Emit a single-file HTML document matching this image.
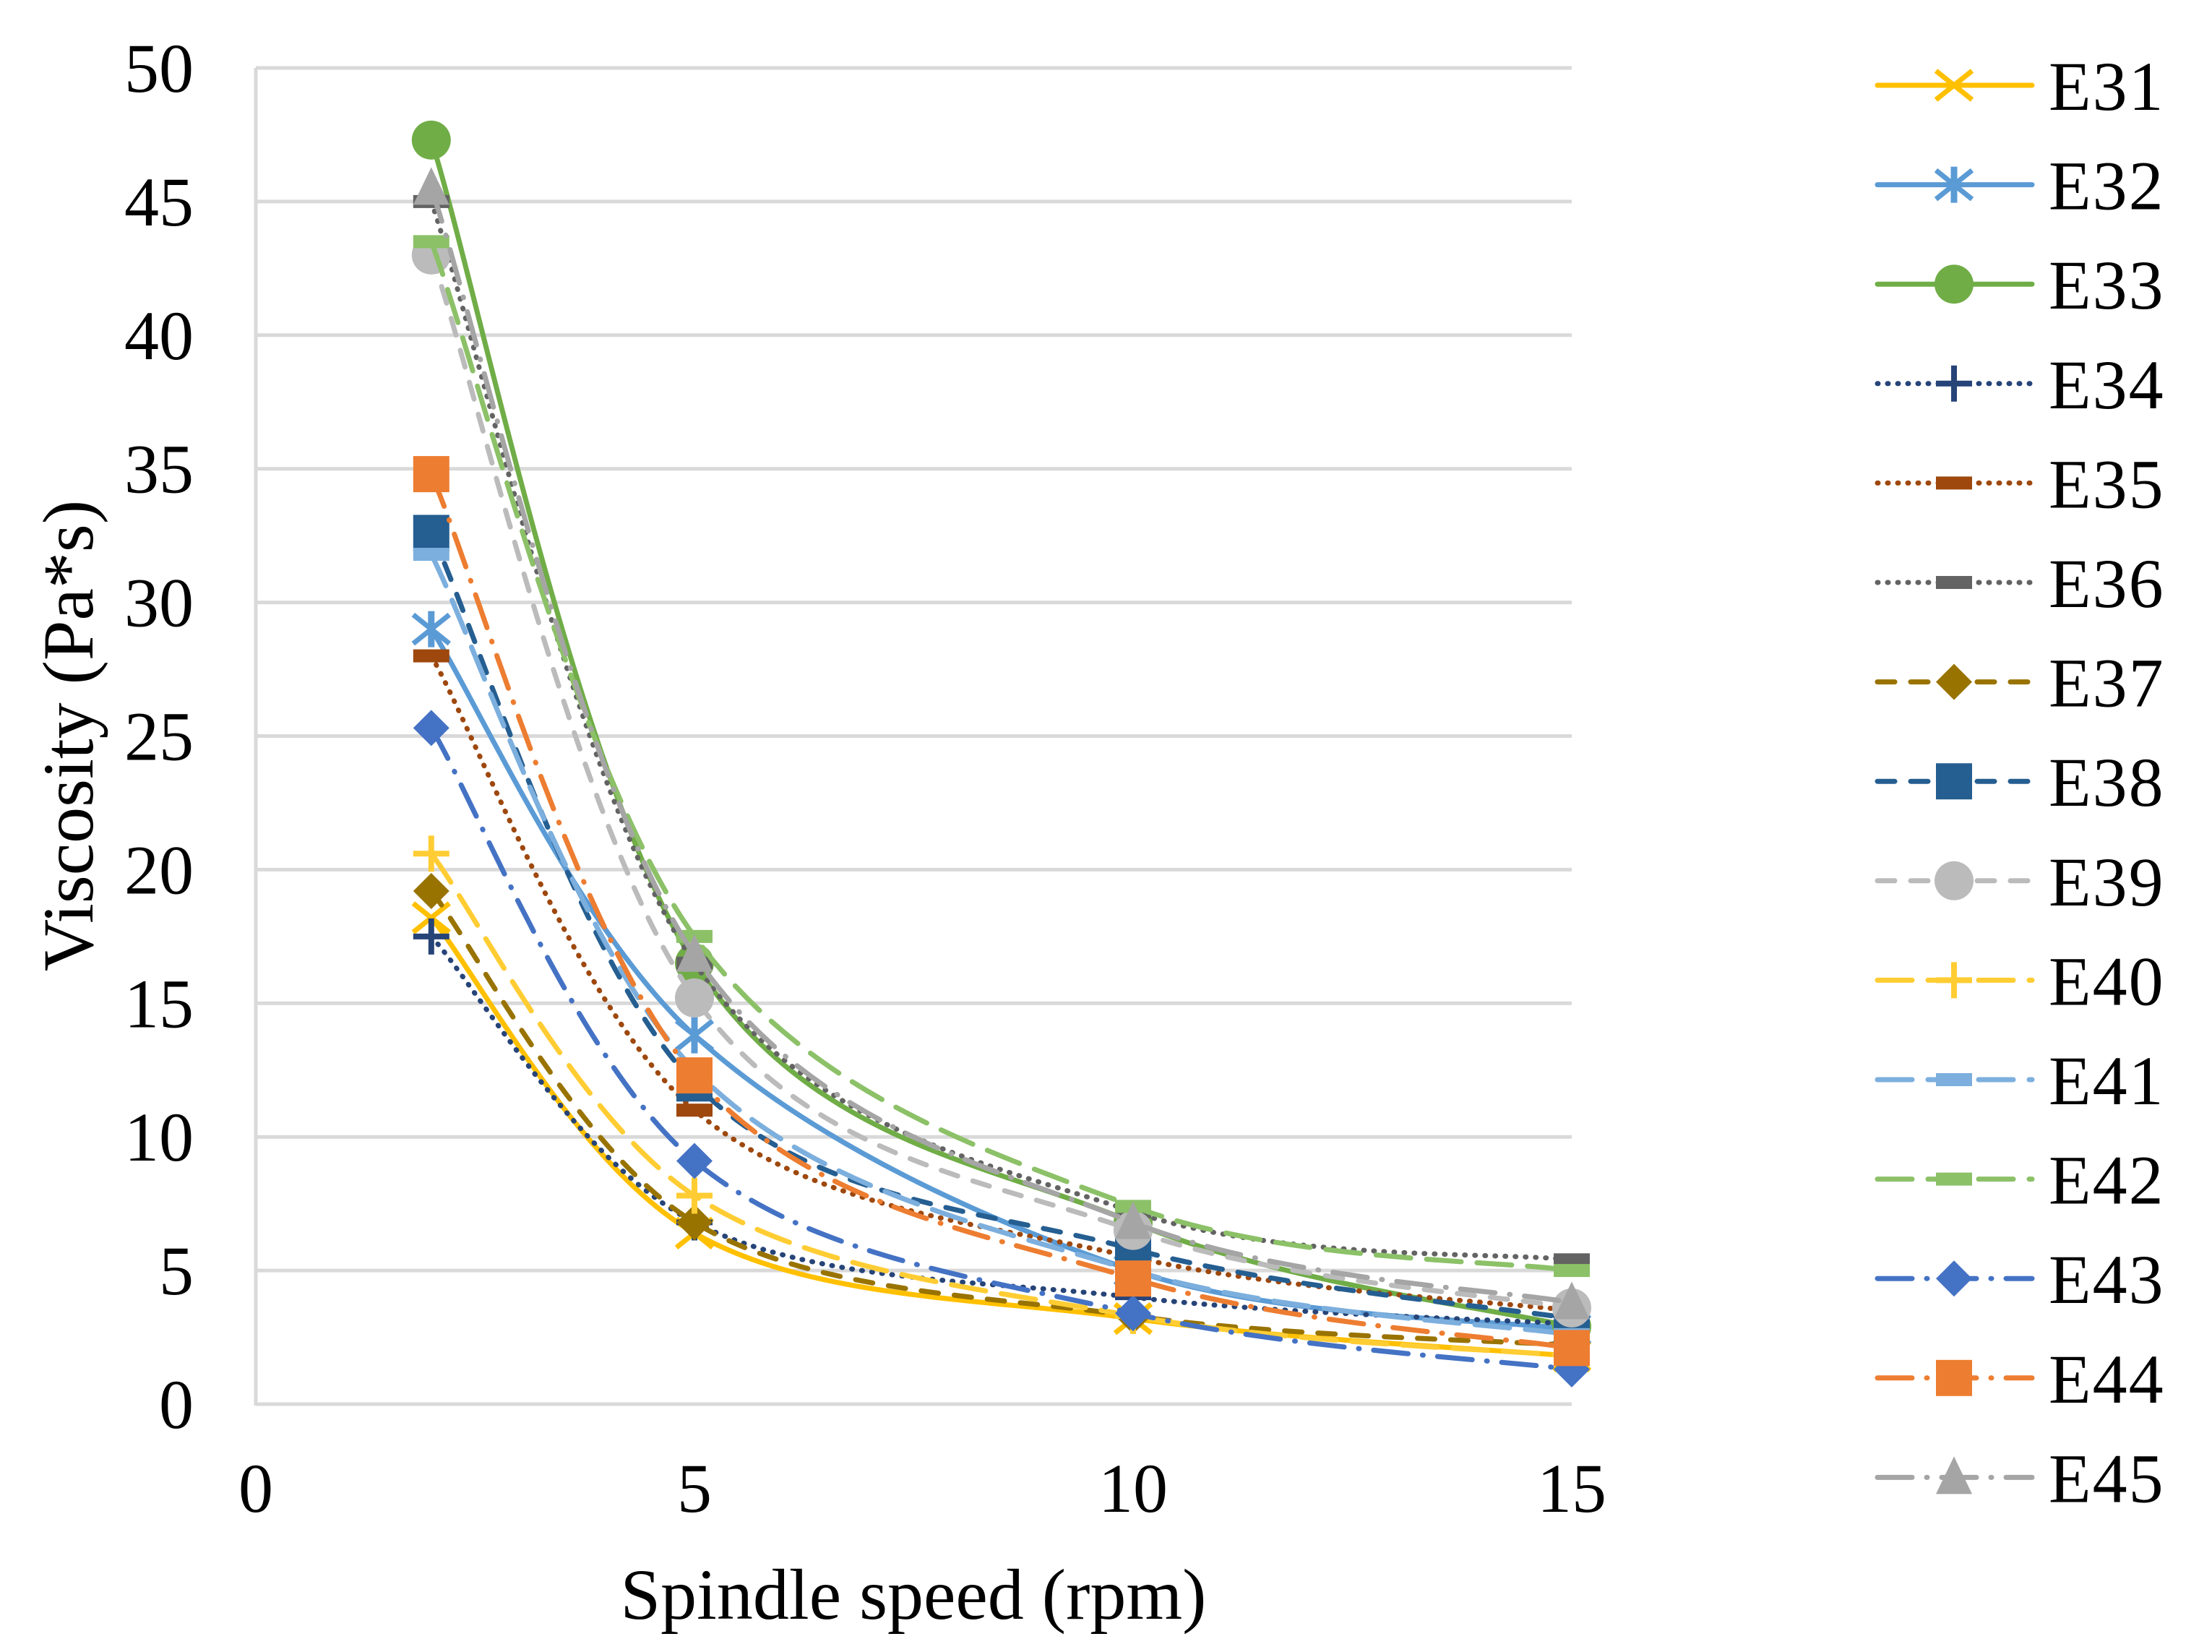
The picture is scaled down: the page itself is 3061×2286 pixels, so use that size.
<!DOCTYPE html>
<html><head><meta charset="utf-8">
<style>
html,body{margin:0;padding:0;background:#fff;}
svg{display:block;}
text{font-family:"Liberation Serif",serif;fill:#000;}
</style></head>
<body>
<svg id="chart" width="3061" height="2286" viewBox="0 0 3061 2286" xmlns="http://www.w3.org/2000/svg">
<g id="grid"></g>
<g id="axes"></g>
<g id="series"></g>
<g id="legend"></g>
<text x="1264" y="2240" font-size="100" text-anchor="middle">Spindle speed (rpm)</text>
<text x="0" y="0" font-size="100" text-anchor="middle" transform="translate(128,1018) rotate(-90)">Viscosity (Pa*s)</text>
</svg>
<script>
const xValues = [2, 5, 10, 15];
const seriesNames = ["E31","E32","E33","E34","E35","E36","E37","E38","E39","E40","E41","E42","E43","E44","E45"];
const E31 = [18.2, 6.4, 3.2, 1.8];
const E32 = [29.0, 13.8, 5.0, 2.8];
const E33 = [47.3, 16.5, 6.8, 2.9];
const E34 = [17.5, 6.8, 4.0, 3.0];
const E35 = [28.0, 11.0, 5.5, 3.5];
const E36 = [45.0, 16.5, 7.2, 5.4];
const E37 = [19.2, 6.8, 3.3, 2.2];
const E38 = [32.6, 12.0, 5.8, 3.2];
const E39 = [43.0, 15.2, 6.5, 3.6];
const E40 = [20.6, 7.8, 3.3, 1.8];
const E41 = [31.8, 12.5, 5.0, 2.6];
const E42 = [43.5, 17.5, 7.4, 5.0];
const E43 = [25.3, 9.1, 3.4, 1.3];
const E44 = [34.8, 12.3, 4.7, 2.1];
const E45 = [45.5, 16.8, 6.8, 3.8];
const yTicks = [0,5,10,15,20,25,30,35,40,45,50];
const xTicks = [0,5,10,15];

const seriesData = [E31,E32,E33,E34,E35,E36,E37,E38,E39,E40,E41,E42,E43,E44,E45];
const styles = [
 {c:"#FFC000",d:"",m:"x"},
 {c:"#5B9BD5",d:"",m:"star"},
 {c:"#70AD47",d:"",m:"circle"},
 {c:"#264478",d:"1 13",m:"plus"},
 {c:"#9E480E",d:"1 13",m:"dash"},
 {c:"#636363",d:"1 13",m:"dash"},
 {c:"#997300",d:"24 22",m:"diamond"},
 {c:"#255E91",d:"24 22",m:"square"},
 {c:"#BBBBBB",d:"24 22",m:"circle"},
 {c:"#FFCD33",d:"48 22",m:"plus"},
 {c:"#7CAFDD",d:"48 22",m:"dash"},
 {c:"#8CC168",d:"48 22",m:"dash"},
 {c:"#4472C4",d:"48 20 1 20",m:"diamond"},
 {c:"#ED7D31",d:"48 20 1 20",m:"square"},
 {c:"#A5A5A5",d:"48 20 1 20",m:"triangle"}
];
const NS="http://www.w3.org/2000/svg";
const X0=354, X1=2175, Y0=1943, Y1=94;
const xs=v=>X0+(v-0)/(15-0)*(X1-X0);
const ys=v=>Y0-(v-0)/(50-0)*(Y0-Y1);
function el(tag,attrs,parent){const e=document.createElementNS(NS,tag);for(const k in attrs)e.setAttribute(k,attrs[k]);parent.appendChild(e);return e;}
const grid=document.getElementById('grid'),axes=document.getElementById('axes'),ser=document.getElementById('series'),leg=document.getElementById('legend');
yTicks.forEach(t=>{
 const l=el('line',{x1:X0,x2:X1,y1:ys(t),y2:ys(t),stroke:"#d9d9d9","stroke-width":5},grid);
 
 
 const tx=el('text',{x:268,y:ys(t)+33,"font-size":96,"text-anchor":"end"},axes);
 tx.textContent=t;
 
 
});
const ax=el('line',{x1:X0,x2:X0,y1:Y1,y2:Y0+2,stroke:"#d9d9d9","stroke-width":5},axes);


xTicks.forEach(t=>{
 const tx=el('text',{x:xs(t),y:2092,"font-size":96,"text-anchor":"middle"},axes);
 tx.textContent=t;
 
 
});
function smoothPath(pts){
 let d="M"+pts[0][0]+","+pts[0][1];
 for(let i=0;i<pts.length-1;i++){
  const p0=pts[i-1]||pts[i],p1=pts[i],p2=pts[i+1],p3=pts[i+2]||p2;
  const c1=[p1[0]+(p2[0]-p0[0])/6,p1[1]+(p2[1]-p0[1])/6];
  const c2=[p2[0]-(p3[0]-p1[0])/6,p2[1]-(p3[1]-p1[1])/6];
  d+=` C${c1[0]},${c1[1]} ${c2[0]},${c2[1]} ${p2[0]},${p2[1]}`;
 }
 return d;
}
function marker(type,cx,cy,c,parent){
 const g=el('g',{},parent);
 const r=25;
 if(type==="circle") el('ellipse',{cx,cy,rx:r+2,ry:r+2,fill:c},g);
 else if(type==="square") el('rect',{x:cx-r,y:cy-r,width:2*r,height:2*r,fill:c},g);
 else if(type==="diamond") el('polygon',{points:`${cx},${cy-r} ${cx+r},${cy} ${cx},${cy+r} ${cx-r},${cy}`,fill:c},g);
 else if(type==="triangle") el('polygon',{points:`${cx},${cy-r-4} ${cx+r},${cy+r-2} ${cx-r},${cy+r-2}`,fill:c},g);
 else if(type==="x"||type==="star"){
  el('line',{x1:cx-r,y1:cy-r*0.8,x2:cx+r,y2:cy+r*0.8,stroke:c,"stroke-width":7},g);
  el('line',{x1:cx-r,y1:cy+r*0.8,x2:cx+r,y2:cy-r*0.8,stroke:c,"stroke-width":7},g);
  if(type==="star") el('line',{x1:cx,y1:cy-r,x2:cx,y2:cy+r,stroke:c,"stroke-width":9},g);
 }
 else if(type==="plus"){
  el('line',{x1:cx-r,y1:cy,x2:cx+r,y2:cy,stroke:c,"stroke-width":8},g);
  el('line',{x1:cx,y1:cy-r,x2:cx,y2:cy+r,stroke:c,"stroke-width":8},g);
 }
 else if(type==="dash") el('rect',{x:cx-r,y:cy-9,width:2*r,height:18,fill:c},g);
 return g;
}
seriesData.forEach((vals,i)=>{
 const s=styles[i];
 const g=el('g',{},ser);
 
 
 const pts=vals.map((v,j)=>[xs(xValues[j]),ys(v)]);
 const p=el('path',{d:smoothPath(pts),fill:"none",stroke:s.c,"stroke-width":7,"stroke-dasharray":s.d,"stroke-linecap":"round"},g);
 
 
 pts.forEach((pt,j)=>{
  const m=marker(s.m,pt[0],pt[1],s.c,g);
  
  
 });
});
seriesNames.forEach((n,i)=>{
 const s=styles[i];const y=118+i*137.6;
 const g=el('g',{},leg);
 
 
 el('line',{x1:2598,x2:2812,y1:y,y2:y,stroke:s.c,"stroke-width":7,"stroke-dasharray":s.d,"stroke-linecap":"round"},g);
 marker(s.m,2704,y,s.c,g);
 const t=el('text',{x:2835,y:y+34,"font-size":96,"letter-spacing":"2"},g);
 t.textContent=n;
 
 
});
</script>
</body></html>
